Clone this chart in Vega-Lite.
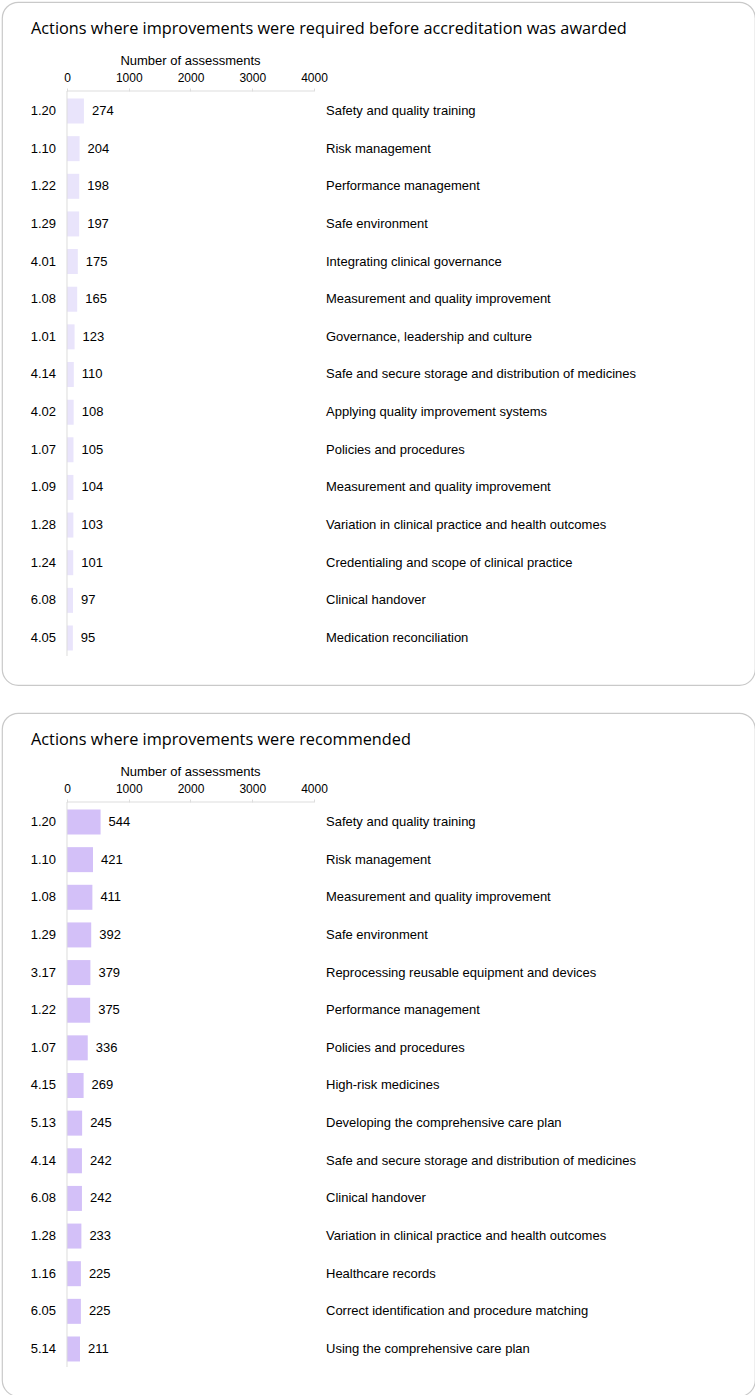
{
  "$schema": "https://vega.github.io/schema/vega-lite/v6.json",
  "padding": {"left": 1, "top": 1, "right": 1, "bottom": 1},
  "autosize": {"type": "pad"},
  "background": "white",
  "spacing": 26,
  "config": {
    "view": {"stroke": "#c9c9c9", "strokeWidth": 1.2, "cornerRadius": 16},
    "font": "Liberation Sans",
    "text": {"font": "Liberation Sans", "fontSize": 13, "color": "#000000"}
  },
  "datasets": {
    "required": [
      {"rank": 1, "code": "1.20", "name": "Safety and quality training", "n": 274},
      {"rank": 2, "code": "1.10", "name": "Risk management", "n": 204},
      {"rank": 3, "code": "1.22", "name": "Performance management", "n": 198},
      {"rank": 4, "code": "1.29", "name": "Safe environment", "n": 197},
      {"rank": 5, "code": "4.01", "name": "Integrating clinical governance", "n": 175},
      {"rank": 6, "code": "1.08", "name": "Measurement and quality improvement", "n": 165},
      {"rank": 7, "code": "1.01", "name": "Governance, leadership and culture", "n": 123},
      {"rank": 8, "code": "4.14", "name": "Safe and secure storage and distribution of medicines", "n": 110},
      {"rank": 9, "code": "4.02", "name": "Applying quality improvement systems", "n": 108},
      {"rank": 10, "code": "1.07", "name": "Policies and procedures", "n": 105},
      {"rank": 11, "code": "1.09", "name": "Measurement and quality improvement", "n": 104},
      {"rank": 12, "code": "1.28", "name": "Variation in clinical practice and health outcomes", "n": 103},
      {"rank": 13, "code": "1.24", "name": "Credentialing and scope of clinical practice", "n": 101},
      {"rank": 14, "code": "6.08", "name": "Clinical handover", "n": 97},
      {"rank": 15, "code": "4.05", "name": "Medication reconciliation", "n": 95}
    ],
    "recommended": [
      {"rank": 1, "code": "1.20", "name": "Safety and quality training", "n": 544},
      {"rank": 2, "code": "1.10", "name": "Risk management", "n": 421},
      {"rank": 3, "code": "1.08", "name": "Measurement and quality improvement", "n": 411},
      {"rank": 4, "code": "1.29", "name": "Safe environment", "n": 392},
      {"rank": 5, "code": "3.17", "name": "Reprocessing reusable equipment and devices", "n": 379},
      {"rank": 6, "code": "1.22", "name": "Performance management", "n": 375},
      {"rank": 7, "code": "1.07", "name": "Policies and procedures", "n": 336},
      {"rank": 8, "code": "4.15", "name": "High-risk medicines", "n": 269},
      {"rank": 9, "code": "5.13", "name": "Developing the comprehensive care plan", "n": 245},
      {"rank": 10, "code": "4.14", "name": "Safe and secure storage and distribution of medicines", "n": 242},
      {"rank": 11, "code": "6.08", "name": "Clinical handover", "n": 242},
      {"rank": 12, "code": "1.28", "name": "Variation in clinical practice and health outcomes", "n": 233},
      {"rank": 13, "code": "1.16", "name": "Healthcare records", "n": 225},
      {"rank": 14, "code": "6.05", "name": "Correct identification and procedure matching", "n": 225},
      {"rank": 15, "code": "5.14", "name": "Using the comprehensive care plan", "n": 211}
    ],
    "axislabel": [{"label": "Number of assessments"}]
  },
  "vconcat": [
    {
      "width": 753,
      "height": 683,
      "title": {"text": "Actions where improvements were required before accreditation was awarded", "anchor": "start", "dx": 29, "offset": -48, "baseline": "alphabetic", "font": "Open Sans", "fontSize": 16.3, "fontWeight": "normal", "color": "#000000"},
      "layer": [
        {
          "data": {"name": "required"},
          "mark": {"type": "bar", "orient": "horizontal", "size": 25, "color": "#e9e4fb"},
          "encoding": {
            "x": {"field": "n", "type": "quantitative", "scale": {"domain": [-1052.6, 11141.7], "nice": false, "zero": false, "padding": 0},
              "axis": {"orient": "top", "offset": -89, "values": [0, 1000, 2000, 3000, 4000], "format": "d", "domain": false, "grid": false, "ticks": true, "tickSize": 3, "tickColor": "#dddddd", "labelFont": "Liberation Sans", "labelFontSize": 12, "labelColor": "#000000", "labelPadding": 4, "title": null}},
            "x2": {"datum": 0},
            "y": {"field": "rank", "type": "quantitative", "scale": {"domain": [-1.896, 16.249], "reverse": true, "nice": false, "zero": false, "padding": 0}, "axis": null}
          }
        },
        {
          "data": {"values": [{}]},
          "mark": {"type": "rule", "color": "#dddddd"},
          "encoding": {"x": {"datum": 0}, "y": {"datum": 0.4686}, "y2": {"datum": 15.48}}
        },
        {
          "data": {"values": [{}]},
          "mark": {"type": "rule", "color": "#dddddd"},
          "encoding": {"x": {"datum": 0}, "x2": {"datum": 4000}, "y": {"datum": 0.4686}}
        },
        {
          "data": {"name": "required"},
          "mark": {"type": "text", "align": "right", "baseline": "middle", "dx": -11},
          "encoding": {"x": {"datum": 0}, "y": {"field": "rank", "type": "quantitative"}, "text": {"field": "code", "type": "nominal"}}
        },
        {
          "data": {"name": "required"},
          "mark": {"type": "text", "align": "left", "baseline": "middle", "dx": 8},
          "encoding": {"x": {"field": "n", "type": "quantitative"}, "y": {"field": "rank", "type": "quantitative"}, "text": {"field": "n", "type": "quantitative"}}
        },
        {
          "data": {"name": "required"},
          "mark": {"type": "text", "align": "left", "baseline": "middle", "dx": 12},
          "encoding": {"x": {"datum": 4000}, "y": {"field": "rank", "type": "quantitative"}, "text": {"field": "name", "type": "nominal"}}
        },
        {
          "data": {"name": "axislabel"},
          "mark": {"type": "text", "align": "center", "baseline": "middle"},
          "encoding": {"x": {"datum": 2000}, "y": {"datum": -0.3285}, "text": {"field": "label", "type": "nominal"}}
        }
      ]
    },
    {
      "width": 753,
      "height": 683,
      "title": {"text": "Actions where improvements were recommended", "anchor": "start", "dx": 29, "offset": -48, "baseline": "alphabetic", "font": "Open Sans", "fontSize": 16.3, "fontWeight": "normal", "color": "#000000"},
      "layer": [
        {
          "data": {"name": "recommended"},
          "mark": {"type": "bar", "orient": "horizontal", "size": 25, "color": "#d3c0f8"},
          "encoding": {
            "x": {"field": "n", "type": "quantitative", "scale": {"domain": [-1052.6, 11141.7], "nice": false, "zero": false, "padding": 0},
              "axis": {"orient": "top", "offset": -89, "values": [0, 1000, 2000, 3000, 4000], "format": "d", "domain": false, "grid": false, "ticks": true, "tickSize": 3, "tickColor": "#dddddd", "labelFont": "Liberation Sans", "labelFontSize": 12, "labelColor": "#000000", "labelPadding": 4, "title": null}},
            "x2": {"datum": 0},
            "y": {"field": "rank", "type": "quantitative", "scale": {"domain": [-1.896, 16.249], "reverse": true, "nice": false, "zero": false, "padding": 0}, "axis": null}
          }
        },
        {
          "data": {"values": [{}]},
          "mark": {"type": "rule", "color": "#dddddd"},
          "encoding": {"x": {"datum": 0}, "y": {"datum": 0.4686}, "y2": {"datum": 15.48}}
        },
        {
          "data": {"values": [{}]},
          "mark": {"type": "rule", "color": "#dddddd"},
          "encoding": {"x": {"datum": 0}, "x2": {"datum": 4000}, "y": {"datum": 0.4686}}
        },
        {
          "data": {"name": "recommended"},
          "mark": {"type": "text", "align": "right", "baseline": "middle", "dx": -11},
          "encoding": {"x": {"datum": 0}, "y": {"field": "rank", "type": "quantitative"}, "text": {"field": "code", "type": "nominal"}}
        },
        {
          "data": {"name": "recommended"},
          "mark": {"type": "text", "align": "left", "baseline": "middle", "dx": 8},
          "encoding": {"x": {"field": "n", "type": "quantitative"}, "y": {"field": "rank", "type": "quantitative"}, "text": {"field": "n", "type": "quantitative"}}
        },
        {
          "data": {"name": "recommended"},
          "mark": {"type": "text", "align": "left", "baseline": "middle", "dx": 12},
          "encoding": {"x": {"datum": 4000}, "y": {"field": "rank", "type": "quantitative"}, "text": {"field": "name", "type": "nominal"}}
        },
        {
          "data": {"name": "axislabel"},
          "mark": {"type": "text", "align": "center", "baseline": "middle"},
          "encoding": {"x": {"datum": 2000}, "y": {"datum": -0.3285}, "text": {"field": "label", "type": "nominal"}}
        }
      ]
    }
  ]
}
